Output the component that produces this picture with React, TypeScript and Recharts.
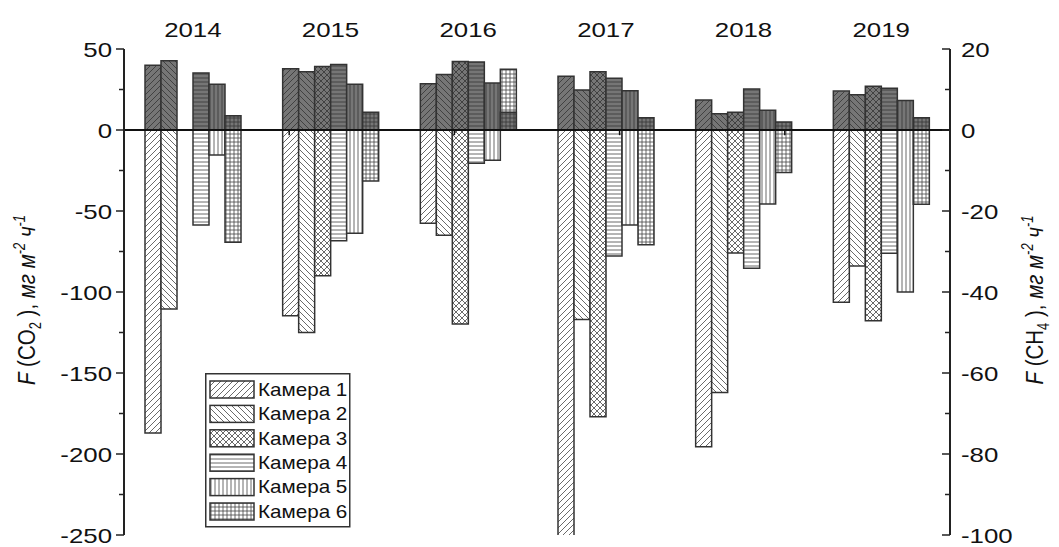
import React from 'react';
import { BarChart, Bar, XAxis, YAxis, ReferenceLine } from 'recharts';

const years = ['2014', '2015', '2016', '2017', '2018', '2019'];
const cameras = ['Камера 1', 'Камера 2', 'Камера 3', 'Камера 4', 'Камера 5', 'Камера 6'];

// CO2 flux, mg m-2 h-1 (left axis)
const co2Cam1 = [-187, -114.6, -57.6, -262, -195.5, -106.4];
const co2Cam2 = [-110.5, -125, -65, -116.9, -162, -84];
const co2Cam3 = [null, -89.9, -119.8, -177, -76, -117.7];
const co2Cam4 = [-58.6, -68.3, -20.6, -77.8, -85.4, -76.1];
const co2Cam5 = [-15.4, -63.8, -18.7, -58.6, -45.7, -100];
const co2Cam6 = [-69.3, -31.5, 37.5, -70.8, -26.3, -45.9];

// CH4 flux, mg m-2 h-1 (right axis)
const ch4Cam1 = [16.0, 15.1, 11.4, 13.3, 7.4, 9.6];
const ch4Cam2 = [17.1, 14.4, 13.7, 9.9, 4.0, 8.7];
const ch4Cam3 = [null, 15.7, 16.9, 14.4, 4.4, 10.8];
const ch4Cam4 = [14.1, 16.2, 16.8, 12.8, 10.1, 10.3];
const ch4Cam5 = [11.3, 11.3, 11.6, 9.7, 4.9, 7.3];
const ch4Cam6 = [3.5, 4.4, 4.4, 3.0, 2.0, 3.0];

const leftTicks = [-250, -225, -200, -175, -150, -125, -100, -75, -50, -25, 0, 25, 50];
const rightTicks = [-100, -90, -80, -70, -60, -50, -40, -30, -20, -10, 0, 10, 20];
const groupBoundaries = [1, 2, 3, 4, 5];

const co2Series = [co2Cam1, co2Cam2, co2Cam3, co2Cam4, co2Cam5, co2Cam6];
const ch4Series = [ch4Cam1, ch4Cam2, ch4Cam3, ch4Cam4, ch4Cam5, ch4Cam6];

const data = years.map((year, i) => {
  const row: any = { year };
  co2Series.forEach((s, k) => { row['co2_' + (k + 1)] = s[i]; });
  ch4Series.forEach((s, k) => { row['ch4_' + (k + 1)] = s[i]; });
  return row;
});

const FONT = '"Liberation Sans", Arial, sans-serif';
const SX = 1.23; // horizontal stretch of the reference lettering
const kinds = ['d1', 'd2', 'x', 'h', 'v', 'g'];

const patternPath = (kind: string) => {
  switch (kind) {
    case 'd1': return { w: 6, h: 6, d: 'M0,6 L6,0 M-1,1 L1,-1 M5,7 L7,5' };
    case 'd2': return { w: 6, h: 6, d: 'M0,0 L6,6 M-1,5 L1,7 M5,-1 L7,1' };
    case 'x': return { w: 6, h: 6, d: 'M0,6 L6,0 M-1,1 L1,-1 M5,7 L7,5 M0,0 L6,6 M-1,5 L1,7 M5,-1 L7,1' };
    case 'h': return { w: 4, h: 4, d: 'M0,2 H4' };
    case 'v': return { w: 4, h: 4, d: 'M2,0 V4' };
    default: return { w: 4, h: 4, d: 'M0,2 H4 M2,0 V4' };
  }
};

const Patterns = () => (
  <svg width={0} height={0} style={{ position: 'absolute' }}>
    <defs>
      {kinds.map((k, i) => {
        const p = patternPath(k);
        return (
          <React.Fragment key={k}>
            <pattern id={'lp' + (i + 1)} patternUnits="userSpaceOnUse" width={p.w} height={p.h}>
              <rect width={p.w} height={p.h} fill="#ffffff" />
              <path d={p.d} stroke="#444" strokeWidth={0.8} fill="none" />
            </pattern>
            <pattern id={'dp' + (i + 1)} patternUnits="userSpaceOnUse" width={p.w} height={p.h}>
              <rect width={p.w} height={p.h} fill="#767676" />
              <path d={p.d} stroke="#333" strokeWidth={0.8} fill="none" />
            </pattern>
          </React.Fragment>
        );
      })}
    </defs>
  </svg>
);

const LeftTick = (props: any) => {
  const { x, y, payload } = props;
  const major = payload.value % 50 === 0;
  return (
    <g>
      <line x1={x} x2={x - (major ? 8 : 5)} y1={y} y2={y} stroke="#222" strokeWidth={1.5} />
      {major && (
        <text transform={`translate(${x - 12},${y}) scale(${SX},1)`} dy="0.36em" textAnchor="end" fontSize={21} fontFamily={FONT} fill="#111">
          {payload.value}
        </text>
      )}
    </g>
  );
};

const RightTick = (props: any) => {
  const { x, y, payload } = props;
  const major = payload.value % 20 === 0;
  return (
    <g>
      <line x1={x} x2={x - (major ? 8 : 5)} y1={y} y2={y} stroke="#222" strokeWidth={1.5} />
      {major && (
        <text transform={`translate(${x + 11},${y}) scale(${SX},1)`} dy="0.36em" textAnchor="start" fontSize={21} fontFamily={FONT} fill="#111">
          {payload.value}
        </text>
      )}
    </g>
  );
};

const YearTick = (props: any) => {
  const { x, y, payload } = props;
  return (
    <text transform={`translate(${x},${y - 12}) scale(${SX},1)`} textAnchor="middle" fontSize={21} fontFamily={FONT} fill="#111">
      {payload.value}
    </text>
  );
};

const LegendBox = () => (
  <svg width={146} height={155} style={{ position: 'absolute', left: 205, top: 373 }}>
    <rect x={0.75} y={0.75} width={144} height={153} fill="#fff" stroke="#333" strokeWidth={1.5} />
    {cameras.map((c, i) => {
      const cy = 16.5 + i * 24.4;
      return (
        <g key={c}>
          <rect x={5} y={cy - 8.5} width={44} height={17} fill={'url(#lp' + (i + 1) + ')'} stroke="#333" strokeWidth={1.5} />
          <text transform={`translate(53,${cy}) scale(1.18,1)`} dy="0.36em" fontSize={17.5} fontFamily={FONT} fill="#111">{c}</text>
        </g>
      );
    })}
  </svg>
);

const Title = ({ x, gas, sub }: { x: number; gas: string; sub: string }) => (
  <text transform={`translate(${x},300) rotate(-90) scale(1,1.2)`} textAnchor="middle" fontSize={20.5} fontFamily={FONT} fill="#111">
    <tspan fontStyle="italic">F</tspan>
    <tspan> ({gas}</tspan>
    <tspan fontSize={13} dy={5}>{sub}</tspan>
    <tspan dy={-5}> ), </tspan>
    <tspan fontStyle="italic">мг м</tspan>
    <tspan fontSize={13} dy={-8} fontStyle="italic">-2</tspan>
    <tspan dy={8} fontStyle="italic"> ч</tspan>
    <tspan fontSize={13} dy={-8} fontStyle="italic">-1</tspan>
  </text>
);

const AxisTitles = () => (
  <svg width={1059} height={547} style={{ position: 'absolute', left: 0, top: 0, pointerEvents: 'none' }}>
    <Title x={35} gas="CO" sub="2" />
    <Title x={1043} gas="CH" sub="4" />
  </svg>
);

export default function App() {
  return (
    <div style={{ position: 'absolute', left: 0, top: 0, width: 1059, height: 547, background: '#fff' }}>
      <Patterns />
      <BarChart
        width={1059}
        height={547}
        data={data}
        margin={{ top: 0, right: 0, bottom: 12, left: 0 }}
        barGap={0}
        barSize={16}
      >
        <XAxis xAxisId="co2" dataKey="year" orientation="top" height={49} axisLine={false} tickLine={false}
          tickSize={0} tickMargin={0} interval={0} tick={<YearTick />} />
        <XAxis xAxisId="ch4" dataKey="year" hide />
        <XAxis xAxisId="num" type="number" domain={[0, 6]} hide allowDataOverflow />
        <YAxis yAxisId="left" domain={[-250, 50]} ticks={leftTicks} interval={0} allowDataOverflow width={124}
          axisLine={{ stroke: '#222', strokeWidth: 2 }} tickLine={false} tickSize={0} tickMargin={0} tick={<LeftTick />} />
        <YAxis yAxisId="right" orientation="right" domain={[-100, 20]} ticks={rightTicks} interval={0} allowDataOverflow width={109}
          axisLine={{ stroke: '#222', strokeWidth: 2 }} tickLine={false} tickSize={0} tickMargin={0} tick={<RightTick />} />
        {cameras.map((c, k) => (
          <Bar key={'co2' + k} xAxisId="co2" yAxisId="left" dataKey={'co2_' + (k + 1)} name={c}
            fill={'url(#lp' + (k + 1) + ')'} stroke="#333" strokeWidth={1.5} isAnimationActive={false} />
        ))}
        {cameras.map((c, k) => (
          <Bar key={'ch4' + k} xAxisId="ch4" yAxisId="right" dataKey={'ch4_' + (k + 1)} name={c + ' CH4'}
            fill={'url(#dp' + (k + 1) + ')'} stroke="#333" strokeWidth={1.5} isAnimationActive={false} />
        ))}
        <ReferenceLine xAxisId="co2" yAxisId="left" y={0} stroke="#111" strokeWidth={2} />
        {groupBoundaries.map((b) => (
          <ReferenceLine key={'t' + b} xAxisId="num" yAxisId="left" segment={[{ x: b, y: 0 }, { x: b, y: -3.2 }]}
            stroke="#111" strokeWidth={1.5} />
        ))}
      </BarChart>
      <LegendBox />
      <AxisTitles />
    </div>
  );
}
